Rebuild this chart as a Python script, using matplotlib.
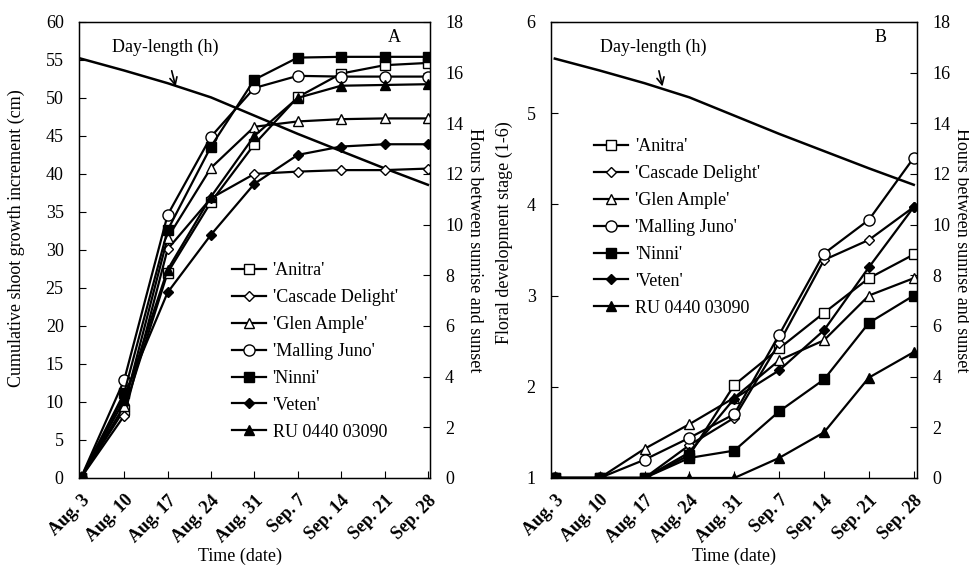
import matplotlib
matplotlib.use("Agg")
import matplotlib.pyplot as plt

plt.rcParams['font.family'] = ['Liberation Serif', 'DejaVu Serif']
plt.rcParams['font.size'] = 13

# time axis (days after Aug. 3)
dates = ['Aug. 3', 'Aug. 10', 'Aug. 17', 'Aug. 24', 'Aug. 31',
         'Sep. 7', 'Sep. 14', 'Sep. 21', 'Sep. 28']
days = [0, 7, 14, 21, 28, 35, 42, 49, 56]

day_length = [16.55, 16.08, 15.58, 15.02, 14.30, 13.58, 12.90, 12.22, 11.57]

names = ["'Anitra'", "'Cascade Delight'", "'Glen Ample'", "'Malling Juno'",
         "'Ninni'", "'Veten'", "RU 0440 03090"]

# panel A: cumulative shoot growth increment (cm)
anitra_a = [0, 9.0, 27.0, 36.3, 43.9, 50.1, 53.2, 54.3, 54.6]
cascade_a = [0, 8.2, 30.1, 36.8, 40.0, 40.3, 40.5, 40.5, 40.7]
glen_a = [0, 9.5, 31.6, 40.8, 46.2, 46.9, 47.2, 47.3, 47.3]
juno_a = [0, 12.9, 34.6, 44.9, 51.3, 52.9, 52.8, 52.8, 52.8]
ninni_a = [0, 11.2, 32.6, 43.6, 52.4, 55.3, 55.4, 55.4, 55.4]
veten_a = [0, 10.8, 24.4, 32.0, 38.7, 42.5, 43.6, 43.9, 43.9]
ru_a = [0, 10.2, 27.4, 37.0, 45.0, 50.0, 51.6, 51.7, 51.8]

# panel B: floral development stage (1-6)
anitra_b = [1, 1, 1, 1.25, 2.02, 2.42, 2.81, 3.19, 3.45]
cascade_b = [1, 1, 1, 1.36, 1.66, 2.48, 3.39, 3.61, 3.97]
glen_b = [1, 1, 1.32, 1.59, 1.88, 2.29, 2.51, 3.00, 3.19]
juno_b = [1, 1, 1.20, 1.44, 1.70, 2.57, 3.46, 3.83, 4.51]
ninni_b = [1, 1, 1, 1.22, 1.30, 1.73, 2.08, 2.70, 3.00]
veten_b = [1, 1, 1, 1.28, 1.87, 2.18, 2.62, 3.31, 3.97]
ru_b = [1, 1, 1, 1, 1, 1.22, 1.50, 2.10, 2.38]

styles = [('s', 'white', 7), ('D', 'white', 5), ('^', 'white', 7),
          ('o', 'white', 8), ('s', 'black', 7), ('D', 'black', 5),
          ('^', 'black', 7)]

fig = plt.figure(figsize=(9.69, 5.68), dpi=100)


def panel(rect, series, ylim, yticks, ylabel, ylabel_xy, xlabel_x, letter,
          xlim, legend_anchor, text_xy, arrow_xy):
    ax = fig.add_axes(rect)
    tw = ax.twinx()
    ax.set_zorder(tw.get_zorder() + 1)
    ax.patch.set_visible(False)

    tw.plot(days, day_length, color='black', lw=1.8)
    tw.set_ylim(0, 18)
    tw.set_yticks(range(0, 19, 2))
    tw.set_ylabel('Hours between sunrise and sunset', rotation=-90,
                  labelpad=14)
    tw.tick_params(direction='in', length=5, pad=11)

    for vals, name, (m, fc, ms) in zip(series, names, styles):
        ax.plot(days, vals, color='black', lw=1.6, marker=m, ms=ms,
                mfc=fc, mec='black', mew=1.0, label=name)

    ax.set_xlim(*xlim)
    ax.set_ylim(*ylim)
    ax.set_yticks(yticks)
    ax.set_xticks(days)
    ax.set_xticklabels(dates, rotation=45, ha='right', rotation_mode='anchor',
                       fontweight='bold')
    ax.tick_params(direction='in', length=5)
    ax.tick_params(axis='x', pad=10)
    ax.tick_params(axis='y', pad=11)
    ax.set_ylabel(ylabel)
    ax.yaxis.set_label_coords(*ylabel_xy)
    ax.set_xlabel('Time (date)')
    ax.xaxis.set_label_coords(xlabel_x, -0.152)
    for s in ax.spines.values():
        s.set_linewidth(1.0)

    ax.text(0.9, 0.985, letter, transform=ax.transAxes, ha='center',
            va='top')
    tw.annotate('Day-length (h)', xy=arrow_xy, xytext=text_xy,
                textcoords='data', ha='center', va='center',
                arrowprops=dict(arrowstyle='->', color='black', lw=1.2,
                                shrinkA=9, shrinkB=0))

    ax.legend(loc='upper left', bbox_to_anchor=legend_anchor, frameon=False,
              handlelength=1.85, handletextpad=0.4, labelspacing=0.55,
              borderaxespad=0)
    return ax


panel([0.0815, 0.1585, 0.362, 0.803],
      [anitra_a, cascade_a, glen_a, juno_a, ninni_a, veten_a, ru_a],
      (0, 60), range(0, 61, 5), 'Cumulative shoot growth increment (cm)',
      (-0.154, 0.526), 0.46, 'A', (-0.3, 56.3), (0.416, 0.489),
      (13.7, 17.0), (15.3, 15.45))

panel([0.5686, 0.1585, 0.3777, 0.803],
      [anitra_b, cascade_b, glen_b, juno_b, ninni_b, veten_b, ru_b],
      (1, 6), range(1, 7), 'Floral development stage (1-6)',
      (-0.104, 0.537), 0.5, 'B', (-0.6, 56.5), (0.099, 0.761),
      (15.4, 17.0), (16.8, 15.45))

fig.savefig('out.png', dpi=100)
